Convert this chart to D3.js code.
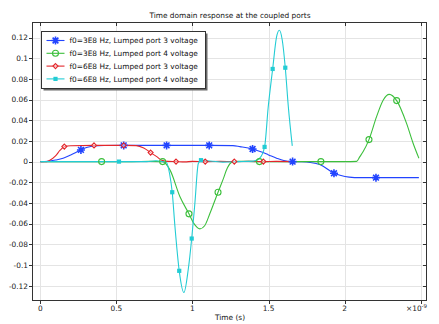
<!DOCTYPE html>
<html><head><meta charset="utf-8">
<script src="https://cdn.jsdelivr.net/npm/d3@7"></script>
<style>body{margin:0;background:#fff}svg{display:block;font-family:"DejaVu Sans",sans-serif}</style>
</head><body><svg id="c" width="439" height="324"></svg>
<script>
// ---- data (time in 1e-9 s, value in V); third field 1 = marker drawn ----
const xTicks = [0, 0.5, 1, 1.5, 2, 2.5];
const xTickLabels = ["0", "0.5", "1", "1.5", "2", ""];
const yTicks = [-0.12, -0.1, -0.08, -0.06, -0.04, -0.02, 0, 0.02, 0.04, 0.06, 0.08, 0.1, 0.12];
const yTickLabels = ["-0.12", "-0.1", "-0.08", "-0.06", "-0.04", "-0.02", "0", "0.02", "0.04", "0.06", "0.08", "0.1", "0.12"];
const seriesNames = ["f0=3E8 Hz, Lumped port 3 voltage", "f0=3E8 Hz, Lumped port 4 voltage",
                     "f0=6E8 Hz, Lumped port 3 voltage", "f0=6E8 Hz, Lumped port 4 voltage"];
const port3_3E8 = [[0,0,0],[0.05,0.0003,0],[0.1,0.0015,0],[0.15,0.0033,0],[0.2,0.0065,0],[0.267,0.0113,1],[0.31,0.0138,0],[0.35,0.0151,0],[0.42,0.0156,0],[0.548,0.0157,1],[0.7,0.0157,0],[0.83,0.0157,1],[1.0,0.0157,0],[1.11,0.0157,1],[1.266,0.0155,0],[1.312,0.0145,0],[1.395,0.0122,1],[1.45,0.0095,0],[1.5,0.0065,0],[1.553,0.0033,0],[1.6,0.001,0],[1.658,0,1],[1.72,-0.0002,0],[1.772,-0.0008,0],[1.84,-0.003,0],[1.93,-0.0112,1],[1.97,-0.0132,0],[2.03,-0.015,0],[2.1,-0.0155,0],[2.206,-0.0155,1],[2.35,-0.0155,0],[2.488,-0.0155,0]];
const port4_3E8 = [[0,0,0],[0.403,0,1],[0.6,0,0],[0.72,0.0002,0],[0.804,0,1],[0.852,-0.008,0],[0.918,-0.034,0],[0.977,-0.0505,1],[1.01,-0.06,0],[1.049,-0.065,0],[1.08,-0.062,0],[1.115,-0.05,0],[1.168,-0.0296,1],[1.2,-0.0177,0],[1.23,-0.006,0],[1.26,-0.0005,0],[1.3,0.0004,0],[1.44,0,1],[1.6,0,0],[1.844,0,1],[2.0,0,0],[2.079,0.0002,0],[2.1,0.0048,0],[2.122,0.0097,0],[2.16,0.0213,1],[2.21,0.0435,0],[2.254,0.0596,0],[2.293,0.065,0],[2.342,0.059,1],[2.407,0.037,0],[2.45,0.0178,0],[2.488,0.0033,0]];
const port3_6E8 = [[0,0,0],[0.042,0,0],[0.06,0.001,0],[0.1,0.0055,0],[0.13,0.011,0],[0.158,0.0145,1],[0.2,0.0154,0],[0.353,0.0157,1],[0.548,0.0157,1],[0.63,0.0155,0],[0.68,0.0132,0],[0.725,0.0087,1],[0.765,0.0048,0],[0.8,0.0012,0],[0.84,0.0002,0],[0.892,0,1],[0.95,-0.0003,0],[1.0,0.0002,0],[1.084,0,1],[1.18,0.0002,0],[1.275,0,1],[1.37,0.0003,0],[1.466,0,1],[1.55,0.0002,0],[1.656,0,0]];
const port4_6E8 = [[0,0,0],[0.517,0,1],[0.7,0,0],[0.76,0.0008,0],[0.8,0,0],[0.83,-0.001,0],[0.85,-0.012,0],[0.867,-0.0296,1],[0.885,-0.063,0],[0.913,-0.1056,1],[0.944,-0.1266,0],[0.972,-0.1046,0],[0.995,-0.0744,1],[1.016,-0.04,0],[1.038,-0.002,0],[1.056,0.0014,1],[1.1,0.0008,0],[1.2,-0.0005,0],[1.3,0,0],[1.4,0.0005,0],[1.44,0.003,0],[1.474,0.0142,1],[1.498,0.053,0],[1.527,0.0896,1],[1.553,0.1208,0],[1.571,0.127,0],[1.59,0.1176,0],[1.61,0.0908,1],[1.63,0.053,0],[1.656,0.0152,0]];
const allSeries = [port3_3E8, port4_3E8, port3_6E8, port4_6E8];
const colors = ["#2244ff", "#3cbf3c", "#e3262b", "#22ccd4"];
const markerTypes = ["asterisk", "circle", "diamond", "square"];

// ---- layout ----
const L = 32.5, R = 426.5, T = 22.5, B = 300.5;
const x = d3.scaleLinear().domain([-0.0513, 2.5394]).range([L, R + 0.2]);
const y = d3.scaleLinear().domain([-0.1343, 0.135]).range([B, T - 0.5]);
const svg = d3.select("#c");
const fs = 7.4;

// grid
const g = svg.append("g");
g.selectAll(".gx").data(xTicks).join("line")
  .attr("x1", d => Math.round(x(d)) + 0.5).attr("x2", d => Math.round(x(d)) + 0.5)
  .attr("y1", T).attr("y2", B).attr("stroke", "#e4e4e4").attr("stroke-width", 1);
g.selectAll(".gy").data(yTicks).join("line")
  .attr("y1", d => Math.round(y(d)) + 0.5).attr("y2", d => Math.round(y(d)) + 0.5)
  .attr("x1", L).attr("x2", R).attr("stroke", "#e4e4e4").attr("stroke-width", 1);

// clip
svg.append("clipPath").attr("id", "clip").append("rect").attr("x", L).attr("y", T).attr("width", R - L).attr("height", B - T);

// lines
const line = d3.line().x(d => x(d[0])).y(d => y(d[1])).curve(d3.curveMonotoneX);
const plot = svg.append("g").attr("clip-path", "url(#clip)");
allSeries.forEach((s, i) => {
  plot.append("path").attr("d", line(s)).attr("fill", "none")
    .attr("stroke", colors[i]).attr("stroke-width", 1.1);
});

function drawMarker(sel, type, color, cx, cy) {
  if (type === "asterisk") {
    const r = 4;
    const d = `M${cx-r},${cy}L${cx+r},${cy}M${cx},${cy-r}L${cx},${cy+r}M${cx-r*0.72},${cy-r*0.72}L${cx+r*0.72},${cy+r*0.72}M${cx-r*0.72},${cy+r*0.72}L${cx+r*0.72},${cy-r*0.72}`;
    sel.append("path").attr("d", d).attr("stroke", color).attr("stroke-width", 1.6).attr("fill", "none");
  } else if (type === "circle") {
    sel.append("circle").attr("cx", cx).attr("cy", cy).attr("r", 3).attr("fill", "none").attr("stroke", color).attr("stroke-width", 1.1);
  } else if (type === "diamond") {
    const r = 2.5;
    sel.append("path").attr("d", `M${cx},${cy-r}L${cx+r},${cy}L${cx},${cy+r}L${cx-r},${cy}Z`).attr("fill", "#fff").attr("fill-opacity", 0.5).attr("stroke", color).attr("stroke-width", 1.1);
  } else {
    sel.append("rect").attr("x", cx - 2.1).attr("y", cy - 2.1).attr("width", 4.2).attr("height", 4.2).attr("fill", color);
  }
}
allSeries.forEach((s, i) => {
  s.filter(d => d[2]).forEach(d => drawMarker(plot, markerTypes[i], colors[i], x(d[0]), y(d[1])));
});

// frame
svg.append("rect").attr("x", L).attr("y", T).attr("width", R - L).attr("height", B - T)
  .attr("fill", "none").attr("stroke", "#333").attr("stroke-width", 1);

// ticks
const tl = 3.5;
xTicks.forEach(t => {
  const px = Math.round(x(t)) + 0.5;
  svg.append("line").attr("x1", px).attr("x2", px).attr("y1", B).attr("y2", B + tl).attr("stroke", "#333");
  svg.append("line").attr("x1", px).attr("x2", px).attr("y1", T).attr("y2", T + tl).attr("stroke", "#333");
});
yTicks.forEach(t => {
  const py = Math.round(y(t)) + 0.5;
  svg.append("line").attr("x1", L - tl).attr("x2", L).attr("y1", py).attr("y2", py).attr("stroke", "#333");
  svg.append("line").attr("x1", R - tl).attr("x2", R).attr("y1", py).attr("y2", py).attr("stroke", "#333");
});
svg.selectAll(".xl").data(xTicks.filter((d, i) => xTickLabels[i])).join("text")
  .attr("x", d => x(d)).attr("y", 311).attr("text-anchor", "middle")
  .attr("font-size", fs).attr("fill", "#222").text((d, i) => xTickLabels[i]);
svg.selectAll(".yl").data(yTicks).join("text")
  .attr("x", 28).attr("y", d => y(d) + 2.8).attr("text-anchor", "end")
  .attr("font-size", fs).attr("fill", "#222").text((d, i) => yTickLabels[i]);

// titles
svg.append("text").attr("x", 230).attr("y", 17.5).attr("text-anchor", "middle")
  .attr("font-size", fs).attr("fill", "#111").text("Time domain response at the coupled ports");
svg.append("text").attr("x", 230).attr("y", 319.5).attr("text-anchor", "middle")
  .attr("font-size", fs).attr("fill", "#111").text("Time (s)");
const ex = svg.append("text").attr("x", 406).attr("y", 311).attr("font-size", fs).attr("fill", "#222");
ex.append("tspan").text("×10");
ex.append("tspan").attr("dy", -3).attr("font-size", 5.5).text("-9");

// legend
const lx = 41.5, ly = 31.5, lw = 164, lh = 57;
svg.append("rect").attr("x", lx + 2).attr("y", ly + 2).attr("width", lw).attr("height", lh).attr("fill", "#6a6a6a");
svg.append("rect").attr("x", lx).attr("y", ly).attr("width", lw).attr("height", lh).attr("fill", "#fff").attr("stroke", "#333").attr("stroke-width", 1);
seriesNames.forEach((n, i) => {
  const yy = ly + 9 + i * 12.8;
  svg.append("line").attr("x1", lx + 5).attr("x2", lx + 23).attr("y1", yy).attr("y2", yy).attr("stroke", colors[i]).attr("stroke-width", 1.1);
  drawMarker(svg, markerTypes[i], colors[i], lx + 14, yy);
  svg.append("text").attr("x", lx + 28).attr("y", yy + 2.8).attr("font-size", fs).attr("fill", "#111").text(n);
});
</script></body></html>
